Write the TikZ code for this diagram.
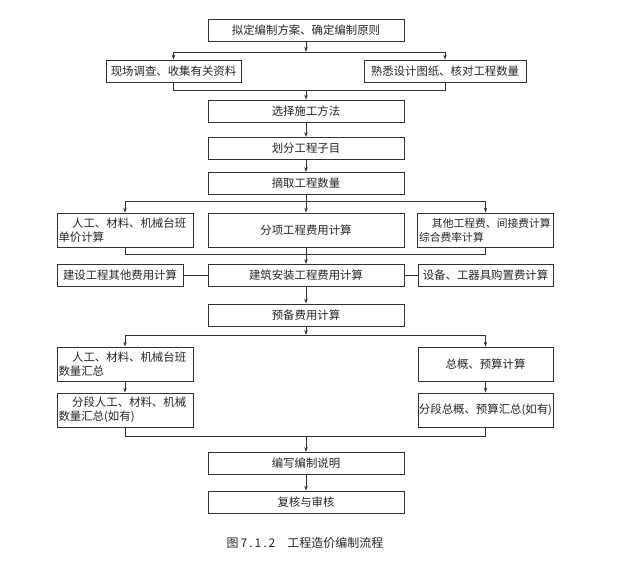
\documentclass[tikz,border=0pt]{standalone}
\usepackage{fontspec}
\newfontfamily\cjk{Noto Sans CJK SC}
\usetikzlibrary{arrows.meta}

\tikzset{
  box/.style={draw=black!80, line width=0.8pt, minimum height=22pt, inner sep=0pt,
    font=\cjk\fontsize{11.4}{14}\selectfont, text=black!85},
  wide/.style={box, minimum width=196pt},
  side/.style={box, minimum width=136pt},
  twoline/.style={box, minimum width=136pt, minimum height=34pt, text width=133pt, align=left},
  arr/.style={draw=black!80, line width=0.8pt, -{Stealth[length=5pt,width=3.5pt]}},
  line/.style={draw=black!80, line width=0.8pt}
}

\begin{document}
\begin{tikzpicture}[x=1pt,y=-1pt]

\useasboundingbox (0,0) rectangle (640,560);

% main column
\node[wide] (plan) at (306,30.5) {拟定编制方案、确定编制原则};
\node[wide] (method) at (306,111) {选择施工方法};
\node[wide] (divide) at (306,148.5) {划分工程子目};
\node[wide] (quantity) at (306,183.5) {摘取工程数量};
\node[wide, minimum height=34pt] (item) at (306,230) {分项工程费用计算};
\node[wide] (install) at (306,275.5) {建筑安装工程费用计算};
\node[wide] (reserve) at (306,315) {预备费用计算};
\node[wide] (explain) at (306,463.5) {编写编制说明};
\node[wide] (review) at (306,502) {复核与审核};

% side boxes
\node[box, minimum width=135pt] (survey) at (173.5,71) {现场调查、收集有关资料};
\node[box, minimum width=162pt] (drawing) at (445,71) {熟悉设计图纸、核对工程数量};
\node[twoline] (unit) at (125,230) {\hspace*{1.2em}人工、材料、机械台班\\单价计算};
\node[twoline, font=\cjk\fontsize{10.8}{14}\selectfont] (other) at (485.5,230) {\hspace*{1.2em}其他工程费、间接费计算\\综合费率计算};
\node[box, minimum width=126pt] (extra) at (120,275.5) {建设工程其他费用计算};
\node[box, minimum width=135pt] (equip) at (485.5,275.5) {设备、工器具购置费计算};
\node[twoline] (sumqty) at (125,364) {\hspace*{1.2em}人工、材料、机械台班\\数量汇总};
\node[twoline] (segqty) at (125,410) {\hspace*{1.2em}分段人工、材料、机械\\数量汇总(如有)};
\node[side, minimum width=135pt, minimum height=34pt] (budget) at (485.5,364) {总概、预算计算};
\node[side, minimum width=135pt, minimum height=34pt] (segbudget) at (485.5,410) {分段总概、预算汇总(如有)};

% caption
\node[font=\cjk\fontsize{12}{14}\selectfont, text=black!85] (caption) at (305,543) {图\,7\,.\,1\,.\,2\quad 工程造价编制流程};

% junction points
\coordinate (j1) at (306,52);
\coordinate (j2) at (306,90);
\coordinate (j3) at (306,201);
\coordinate (j4) at (306,254);
\coordinate (j5) at (306,335);
\coordinate (j6) at (306,436);

% split and merge
\draw[arr] (plan) -- (j1);
\draw[arr] (j1) -| (survey.north);
\draw[arr] (j1) -| (drawing.north);
\draw[line] (survey.south) |- (j2);
\draw[line] (drawing.south) |- (j2);
\draw[arr] (j2) -- (method);

\draw[arr] (method) -- (divide);
\draw[arr] (divide) -- (quantity);

\draw[arr] (quantity) -- (item);
\draw[arr] (j3) -| (unit.north);
\draw[arr] (j3) -| (other.north);
\draw[line] (unit.south) |- (j4);
\draw[line] (other.south) |- (j4);
\draw[arr] (item) -- (install);
\draw[line] (extra) -- (install);
\draw[line] (equip) -- (install);

\draw[arr] (install) -- (reserve);
\draw[arr] (reserve) -- (j5);
\draw[arr] (j5) -| (sumqty.north);
\draw[arr] (j5) -| (budget.north);
\draw[arr] (sumqty) -- (segqty);
\draw[arr] (budget) -- (segbudget);
\draw[line] (segqty.south) |- (j6);
\draw[line] (segbudget.south) |- (j6);
\draw[arr] (j6) -- (explain);
\draw[arr] (explain) -- (review);

\end{tikzpicture}
\end{document}
